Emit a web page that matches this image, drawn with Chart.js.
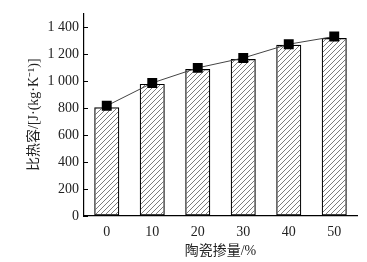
<!DOCTYPE html>
<html>
<head>
<meta charset="utf-8">
<script src="https://cdn.jsdelivr.net/npm/chart.js@4"></script>
<style>
  html, body { margin: 0; padding: 0; background: #fff; }
  #wrap { width: 367px; height: 262px; }
</style>
</head>
<body>
<div id="wrap"><canvas id="chart" width="367" height="262"></canvas></div>
<script>
// ceramic content (%) on the x axis
const categories = ['0', '10', '20', '30', '40', '50'];
// specific heat, bars (measured) and squares (line)
const barValues = [805, 978, 1088, 1162, 1267, 1317];
const lineValues = [816, 985, 1097, 1170, 1272, 1329];
// y tick labels as printed in the figure
const yTickValues = [0, 200, 400, 600, 800, 1000, 1200, 1400];
const yTickLabels = ['0', '200', '400', '600', '800', '1 000', '1 200', '1 400'];

const serif = '"Liberation Serif", "Noto Sans CJK SC", serif';

// hatch fill for the bars: thin "/" lines
function makeHatch() {
    const c = document.createElement('canvas');
    c.width = 5; c.height = 5;
    const g = c.getContext('2d');
    g.strokeStyle = '#444';
    g.lineWidth = 0.7;
    g.beginPath();
    g.moveTo(0, 5); g.lineTo(5, 0);
    g.moveTo(-1, 1); g.lineTo(1, -1);
    g.moveTo(4, 6); g.lineTo(6, 4);
    g.stroke();
    return g.createPattern(c, 'repeat');
}

// small inward tick marks on the left axis
const inwardTicks = {
    id: 'inwardTicks',
    afterDraw(chart) {
        const y = chart.scales.y;
        const ctx = chart.ctx;
        ctx.save();
        ctx.strokeStyle = '#000';
        ctx.lineWidth = 1;
        ctx.beginPath();
        yTickValues.forEach(v => {
            const py = Math.round(y.getPixelForValue(v)) + 0.5;
            ctx.moveTo(y.right, py);
            ctx.lineTo(y.right + 4, py);
        });
        ctx.stroke();
        ctx.restore();
    }
};

const ctx = document.getElementById('chart').getContext('2d');

new Chart(ctx, {
    type: 'bar',
    data: {
        labels: categories,
        datasets: [
            {
                type: 'line',
                data: lineValues,
                borderColor: '#444',
                borderWidth: 1,
                pointStyle: 'rect',
                pointRadius: 7,
                pointBackgroundColor: '#000',
                pointBorderColor: '#000',
                pointBorderWidth: 0,
                tension: 0,
                order: 0
            },
            {
                data: barValues,
                backgroundColor: makeHatch(),
                borderColor: '#000',
                borderWidth: 1.2,
                borderSkipped: false,
                categoryPercentage: 1,
                barPercentage: 0.55,
                order: 1
            }
        ]
    },
    options: {
        responsive: false,
        animation: false,
        layout: { padding: { left: 26, right: 10, top: 12, bottom: 2 } },
        plugins: {
            legend: { display: false },
            tooltip: { enabled: false }
        },
        scales: {
            x: {
                grid: { display: true, drawOnChartArea: false, drawTicks: false },
                border: { display: true, color: '#000', width: 1.2 },
                ticks: { color: '#222', font: { family: serif, size: 14 }, padding: 8 },
                title: {
                    display: true,
                    text: '陶瓷掺量/%',
                    color: '#222',
                    font: { family: serif, size: 14 },
                    padding: { top: 0, bottom: 0 }
                },
                afterFit(scale) { scale.height = 44; }
            },
            y: {
                min: 0,
                max: 1500,
                afterBuildTicks(scale) {
                    scale.ticks = yTickValues.map(v => ({ value: v }));
                },
                grid: { display: true, drawOnChartArea: false, drawTicks: false },
                border: { display: true, color: '#000', width: 1.2 },
                ticks: {
                    color: '#222',
                    font: { family: serif, size: 14 },
                    padding: 5,
                    callback: v => yTickLabels[yTickValues.indexOf(v)]
                },
                title: {
                    display: true,
                    text: '比热容/[J·(kg·K⁻¹)]',
                    color: '#222',
                    font: { family: serif, size: 14 },
                    padding: { top: 0, bottom: 0 }
                },
                afterFit(scale) { scale.width = 58; }
            }
        }
    },
    plugins: [inwardTicks]
});
</script>
</body>
</html>
